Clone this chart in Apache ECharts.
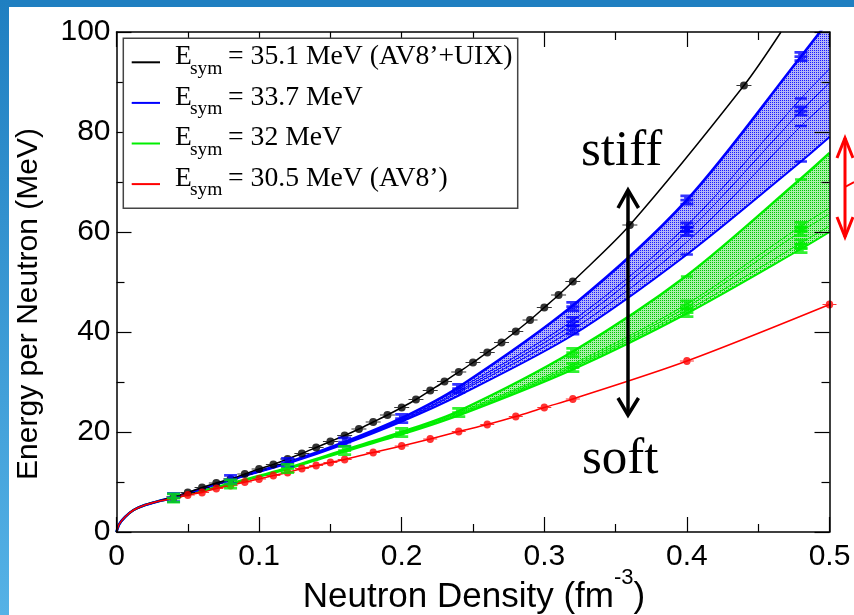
<!DOCTYPE html>
<html><head><meta charset="utf-8">
<script src="https://cdn.jsdelivr.net/npm/echarts@6/dist/echarts.min.js"></script>
<style>html,body{margin:0;padding:0;background:#fff}#c{width:854px;height:615px}</style>
</head><body><div id="c"></div>
<script>
// ---------- data ----------
// common low-density start of all curves
const lowRho = [0, 0.002, 0.006, 0.012, 0.02, 0.03];
const lowE   = [0, 1.6, 3.0, 4.4, 5.4, 6.2];

// E_sym = 35.1 MeV (AV8'+UIX)
const blackRho = [0.04,0.05,0.06,0.07,0.08,0.09,0.10,0.11,0.12,0.13,0.14,0.15,0.16,0.17,0.18,0.19,0.20,0.21,0.22,0.23,0.24,0.25,0.26,0.27,0.28,0.29,0.30,0.31,0.32,0.36,0.44];
const blackE   = [7.0,7.9,8.9,9.8,10.6,11.6,12.6,13.5,14.6,15.7,16.9,18.1,19.3,20.6,22.0,23.4,24.9,26.5,28.3,30.1,32.0,33.9,35.9,37.9,40.1,42.4,44.9,47.4,50.1,61.4,89.3];
const blackTailRho = [0.466];
const blackTailE   = [100.0];

// E_sym = 30.5 MeV (AV8')
const redRho = [0.04,0.05,0.06,0.07,0.08,0.09,0.10,0.11,0.12,0.13,0.14,0.15,0.16,0.18,0.20,0.22,0.24,0.26,0.28,0.30,0.32,0.40,0.50];
const redE   = [6.7,7.4,7.9,8.7,9.3,10.0,10.6,11.3,11.9,12.7,13.3,13.9,14.5,15.9,17.2,18.6,20.1,21.5,23.1,24.9,26.6,34.2,45.5];

// band curves (E_sym = 33.7 MeV blue, 32 MeV green)
const bandRho    = [0.04,0.08,0.12,0.16,0.20,0.24,0.32,0.40,0.48,0.50];
const blueUpper  = [6.9,10.5,13.9,18.0,22.8,29.0,45.3,66.4,95.1,102.5];
const blueLower  = [6.9,10.4,13.7,17.6,22.1,27.3,39.4,55.5,74.1,79.0];
const blueMidA   = [6.9,10.5,13.8,17.9,22.6,28.6,42.3,61.3,86.7,92.6];
const blueMidB   = [6.9,10.4,13.8,17.8,22.4,28.2,41.5,60.0,84.2,89.8];
const blueMidC   = [6.9,10.4,13.7,17.7,22.3,27.9,40.5,58.0,81.2,86.4];
const greenUpper = [6.8,9.7,12.8,16.4,20.0,24.2,36.1,51.3,70.7,75.8];
const greenLower = [6.8,9.6,12.6,16.1,19.5,23.3,32.5,43.7,56.6,60.0];
const greenMidA  = [6.8,9.7,12.7,16.3,19.9,23.9,33.6,45.6,61.2,64.8];
const greenMidB  = [6.8,9.6,12.7,16.3,19.8,23.7,33.2,45.0,60.1,63.6];
const greenMidC  = [6.8,9.6,12.6,16.2,19.7,23.5,32.9,44.3,57.8,61.2];

// QMC points
const blueStarRho = [0.04,0.08,0.12,0.16,0.20,0.24,0.32,0.32,0.32,0.40,0.40,0.40,0.48,0.48];
const blueStarE   = [6.9,10.5,13.9,18.0,22.7,28.7,45.1,42.1,40.4,66.4,61.0,60.1,95.1,84.2];
const blueDashRho = [0.40,0.48,0.48,0.48];
const blueDashE   = [55.5,86.7,81.2,74.1];
const greenStarRho = [0.04,0.08,0.12,0.16,0.20,0.24,0.32,0.32,0.40,0.40,0.48,0.48,0.48,0.48];
const greenStarE   = [6.8,9.6,12.7,16.3,19.9,23.9,35.9,32.9,45.4,43.9,61.1,60.1,57.6,56.7];
const greenDashRho = [0.40,0.48];
const greenDashE   = [51.1,70.5];

// axes / texts
const xTicks = [0,0.1,0.2,0.3,0.4,0.5];
const xTickLabels = ['0','0.1','0.2','0.3','0.4','0.5'];
const yTicks = [0,20,40,60,80,100];
const yTickLabels = ['0','20','40','60','80','100'];
const legendMain = ['= 35.1 MeV (AV8\u2019+UIX)','= 33.7 MeV','= 32 MeV','= 30.5 MeV (AV8\u2019)'];
const legendColors = ['#000000','#0000ff','#00ee00','#ff0000'];

// ---------- helpers ----------
const pts = (xs, ys) => xs.map((x, i) => [x, ys[i]]);
const withLow = (xs, ys) => pts(lowRho, lowE).concat(pts(xs, ys));
function pattern(dot, bg) {
  const cv = document.createElement('canvas'); cv.width = 2; cv.height = 2;
  const ctx = cv.getContext('2d');
  ctx.fillStyle = bg; ctx.fillRect(0, 0, 2, 2);
  ctx.fillStyle = dot; ctx.fillRect(0, 0, 1, 1);
  return { image: cv, repeat: 'repeat' };
}
const SANS = "'Liberation Sans', Arial, sans-serif";
const SERIF = "'Liberation Serif', 'Times New Roman', serif";
const errCircle = 'path://M0,3.4H15V4.6H0Z M3.5,4A4,4 0 1 1 11.5,4A4,4 0 1 1 3.5,4Z';
const ibeam = 'path://M0,0H14V3H10V4.5H14V7.5H10V9H14V12H0V9H4V7.5H0V4.5H4V3H0Z';
const dash = 'path://M0,0H12V2H0Z';
const SM = 0.3;

function lineS(data, color, width, z, extra) {
  return Object.assign({
    type: 'line', data, smooth: SM, showSymbol: false, symbol: 'none',
    lineStyle: { color, width }, itemStyle: { color }, z, silent: true, animation: false
  }, extra || {});
}
function areaS(data, fill, z) {
  return { type: 'line', data, smooth: SM, showSymbol: false, symbol: 'none', z, silent: true, animation: false,
    lineStyle: { width: 0, opacity: 0 }, areaStyle: { color: fill, opacity: 1 } };
}
function scat(xs, ys, color, symbol, size, z) {
  return { type: 'scatter', data: pts(xs, ys), symbol, symbolSize: size, itemStyle: { color }, z: z || 10, silent: true, animation: false };
}
const band = (arr) => withLow(bandRho, arr);

const series = [
  // band fills: dotted area under upper curve, covered in white under lower curve
  areaS(band(blueUpper), pattern('#1a1aff', '#b4b4f6'), 1),
  areaS(band(blueLower), '#ffffff', 2),
  areaS(band(greenUpper), pattern('#00c800', '#aaf0aa'), 3),
  areaS(band(greenLower), '#ffffff', 4),
  // band lines
  lineS(band(blueMidA), '#0000ff', 1, 5),
  lineS(band(blueMidB), '#0000ff', 1, 5),
  lineS(band(blueMidC), '#0000ff', 1, 5),
  lineS(band(greenMidA), '#00ee00', 1, 5),
  lineS(band(greenMidB), '#00ee00', 1, 5),
  lineS(band(greenMidC), '#00ee00', 1, 5),
  lineS(band(greenLower), '#00ee00', 2, 6),
  lineS(band(greenUpper), '#00ee00', 2.4, 6),
  lineS(band(blueLower), '#0000ff', 2, 6),
  lineS(band(blueUpper), '#0000ff', 2.6, 6),
  // black and red
  lineS(withLow(blackRho, blackE).concat(pts(blackTailRho, blackTailE)), '#000000', 1.5, 7),
  lineS(withLow(redRho, redE), '#ff0000', 1.5, 7),
  scat(blackRho, blackE, '#000000', errCircle, [15, 8]),
  scat(redRho, redE, '#ff0000', errCircle, [14, 8]),
  scat(blueStarRho, blueStarE, '#0000ff', ibeam, [13, 11]),
  scat(blueDashRho, blueDashE, '#0000ff', dash, [12, 2.5]),
  scat(greenStarRho, greenStarE, '#00ee00', ibeam, [13, 11]),
  scat(greenDashRho, greenDashE, '#00ee00', dash, [12, 2.5])
];

const axisCommon = {
  type: 'value', z: 20,
  axisLine: { show: true, onZero: false, lineStyle: { color: '#000', width: 1.5 } },
  axisTick: { show: true, inside: true, length: 15, lineStyle: { color: '#000', width: 1.2 } },
  minorTick: { show: true, splitNumber: 2, length: 8, lineStyle: { color: '#000', width: 1.2 } },
  splitLine: { show: false }, minorSplitLine: { show: false }
};
const xLab = { show: true, margin: 10, fontFamily: SANS, fontSize: 30, color: '#000',
  formatter: v => { const i = xTicks.findIndex(t => Math.abs(t - v) < 1e-9); return i >= 0 ? xTickLabels[i] : ''; } };
const yLab = { show: true, margin: 6, fontFamily: SANS, fontSize: 30, color: '#000',
  formatter: v => { const i = yTicks.indexOf(v); return i >= 0 ? yTickLabels[i] : ''; } };

// ---------- graphics: legend, annotations, slide frame ----------
const G = [];
const legX = 123.3, legY = 38.3, legW = 394.4, legH = 170;
G.push({ type: 'rect', shape: { x: legX, y: legY, width: legW, height: legH }, style: { fill: '#fff', stroke: '#444', lineWidth: 1.5 }, z: 100 });
legendMain.forEach((t, i) => {
  const base = 65 + i * 40.6;
  G.push({ type: 'line', shape: { x1: 131.7, y1: base - 2.7, x2: 160, y2: base - 2.7 }, style: { stroke: legendColors[i], lineWidth: 2 }, z: 101 });
  G.push({ type: 'text', x: 175, y: base - 8.3, style: { text: 'E', font: '27.5px ' + SERIF, fill: '#000', align: 'left', verticalAlign: 'middle', textAlign: 'left', textVerticalAlign: 'middle' }, z: 101 });
  G.push({ type: 'text', x: 190, y: base + 3.5, style: { text: 'sym', font: '19.5px ' + SERIF, fill: '#000', align: 'left', verticalAlign: 'middle', textAlign: 'left', textVerticalAlign: 'middle' }, z: 101 });
  G.push({ type: 'text', x: 228, y: base - 8.3, style: { text: t, font: '27.7px ' + SERIF, fill: '#000', align: 'left', verticalAlign: 'middle', textAlign: 'left', textVerticalAlign: 'middle' }, z: 101 });
});
// stiff / soft
G.push({ type: 'text', x: 581, y: 151.5, style: { text: 'stiff', font: '51px ' + SERIF, fill: '#000', align: 'left', verticalAlign: 'middle', textAlign: 'left', textVerticalAlign: 'middle' }, z: 101 });
G.push({ type: 'text', x: 582, y: 460, style: { text: 'soft', font: '51px ' + SERIF, fill: '#000', align: 'left', verticalAlign: 'middle', textAlign: 'left', textVerticalAlign: 'middle' }, z: 101 });
// black double arrow
G.push({ type: 'line', shape: { x1: 628, y1: 190, x2: 628, y2: 415 }, style: { stroke: '#000', lineWidth: 3.5 }, z: 101 });
G.push({ type: 'polyline', shape: { points: [[618, 208], [628, 190], [638.5, 208]] }, style: { stroke: '#000', lineWidth: 3.5, fill: null }, z: 101 });
G.push({ type: 'polyline', shape: { points: [[618, 398], [628, 415], [638.5, 398]] }, style: { stroke: '#000', lineWidth: 3.5, fill: null }, z: 101 });
// red double arrow at right edge
G.push({ type: 'line', shape: { x1: 845, y1: 138, x2: 845, y2: 237 }, style: { stroke: '#ff0000', lineWidth: 3 }, z: 101 });
G.push({ type: 'polyline', shape: { points: [[837, 158], [845, 138], [853, 158]] }, style: { stroke: '#ff0000', lineWidth: 3, fill: null }, z: 101 });
G.push({ type: 'polyline', shape: { points: [[837, 217], [845, 237], [853, 217]] }, style: { stroke: '#ff0000', lineWidth: 3, fill: null }, z: 101 });
G.push({ type: 'line', shape: { x1: 845, y1: 187, x2: 854, y2: 182 }, style: { stroke: '#ff0000', lineWidth: 2 }, z: 101 });
// axis names
G.push({ type: 'text', x: 29, y: 304, rotation: Math.PI / 2, style: { text: 'Energy per Neutron (MeV)', font: '30px ' + SANS, fill: '#000', align: 'center', verticalAlign: 'middle', textAlign: 'center', textVerticalAlign: 'middle' }, z: 101 });
G.push({ type: 'text', x: 474, y: 597, style: { text: '{a|Neutron Density (fm}{b|-3}{a|)}', align: 'center', verticalAlign: 'middle', textAlign: 'center', textVerticalAlign: 'middle',
  rich: { a: { fontFamily: SANS, fontSize: 35, lineHeight: 60, verticalAlign: 'middle', fill: '#000', color: '#000' },
          b: { fontFamily: SANS, fontSize: 22, lineHeight: 22, verticalAlign: 'top', fill: '#000', color: '#000' } } }, z: 101 });
// slide frame strips
G.push({ type: 'rect', shape: { x: 0, y: 0, width: 854, height: 7 }, style: { fill: '#1f7fc1' }, z: 120 });
G.push({ type: 'rect', shape: { x: 0, y: 0, width: 9, height: 615 }, style: { fill: new echarts.graphic.LinearGradient(0, 0, 0, 1, [{ offset: 0, color: '#1f7fc1' }, { offset: 1, color: '#55b2e6' }]) }, z: 120 });

const chart = echarts.init(document.getElementById('c'), null, { renderer: 'canvas' });
chart.setOption({
  animation: false,
  backgroundColor: '#ffffff',
  grid: { left: 116.5, right: 24.5, top: 32, bottom: 83, containLabel: false },
  xAxis: [
    Object.assign({}, axisCommon, { position: 'bottom', min: 0, max: 0.5, interval: 0.1, axisLabel: xLab }),
    Object.assign({}, axisCommon, { position: 'top', min: 0, max: 0.5, interval: 0.1, axisLabel: { show: false } })
  ],
  yAxis: [
    Object.assign({}, axisCommon, { position: 'left', min: 0, max: 100, interval: 20, axisLabel: yLab }),
    Object.assign({}, axisCommon, { position: 'right', min: 0, max: 100, interval: 20, axisLabel: { show: false } })
  ],
  series,
  graphic: { elements: G }
});
</script></body></html>
